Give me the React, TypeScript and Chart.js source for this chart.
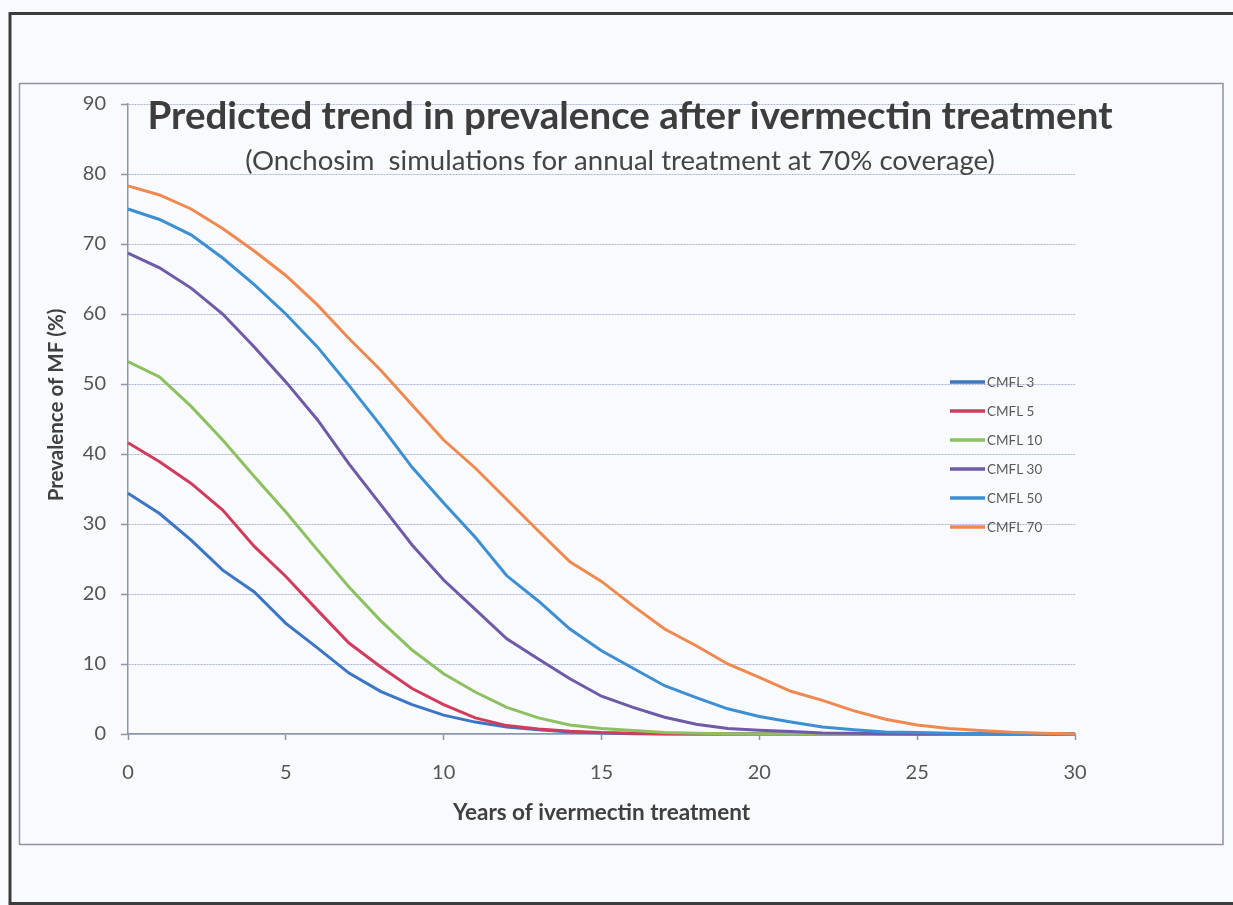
import React, { useEffect, useRef } from 'react';
import { Chart, registerables } from 'chart.js';

Chart.register(...registerables);

// ---- data ----
const years = [0, 1, 2, 3, 4, 5, 6, 7, 8, 9, 10, 11, 12, 13, 14, 15, 16, 17, 18, 19, 20, 21, 22, 23, 24, 25, 26, 27, 28, 29, 30];

const seriesNames = ['CMFL 3', 'CMFL 5', 'CMFL 10', 'CMFL 30', 'CMFL 50', 'CMFL 70'];

const cmfl3 = [34.4, 31.5, 27.7, 23.4, 20.3, 15.8, 12.3, 8.7, 6.1, 4.2, 2.7, 1.7, 1.0, 0.6, 0.3, 0.15, 0.05, 0, 0, 0, 0, 0, 0, 0, 0, 0, 0, 0, 0, 0, 0];
const cmfl5 = [41.6, 38.9, 35.8, 32.0, 26.8, 22.5, 17.7, 13.0, 9.6, 6.5, 4.2, 2.3, 1.2, 0.7, 0.4, 0.2, 0.1, 0.05, 0, 0, 0, 0, 0, 0, 0, 0, 0, 0, 0, 0, 0];
const cmfl10 = [53.2, 51.0, 46.8, 42.0, 36.8, 31.7, 26.3, 21.0, 16.2, 12.0, 8.6, 6.0, 3.8, 2.3, 1.3, 0.8, 0.5, 0.2, 0.1, 0.05, 0, 0, 0, 0, 0, 0, 0, 0, 0, 0, 0];
const cmfl30 = [68.7, 66.6, 63.7, 60.0, 55.3, 50.3, 44.9, 38.6, 32.8, 27.0, 22.0, 17.8, 13.6, 10.7, 7.9, 5.4, 3.8, 2.4, 1.4, 0.8, 0.55, 0.35, 0.15, 0.1, 0.05, 0, 0, 0, 0, 0, 0];
const cmfl50 = [75.0, 73.5, 71.3, 68.0, 64.2, 60.0, 55.3, 49.8, 44.1, 38.1, 33.0, 28.1, 22.6, 19.0, 15.0, 11.9, 9.4, 6.9, 5.2, 3.6, 2.5, 1.7, 1.0, 0.6, 0.3, 0.2, 0.1, 0.05, 0.02, 0, 0];
const cmfl70 = [78.3, 77.0, 75.0, 72.2, 69.0, 65.5, 61.3, 56.5, 52.0, 47.0, 42.0, 38.0, 33.5, 29.0, 24.6, 21.8, 18.3, 15.0, 12.6, 10.0, 8.1, 6.1, 4.8, 3.3, 2.1, 1.3, 0.8, 0.5, 0.25, 0.1, 0];

const seriesValues = [cmfl3, cmfl5, cmfl10, cmfl30, cmfl50, cmfl70];
const seriesColors = ['#3b76c4', '#d23c5c', '#8dc060', '#6f5aa8', '#3d8fd4', '#f0894f'];

const xTickValues = [0, 5, 10, 15, 20, 25, 30];
const yTickValues = [0, 10, 20, 30, 40, 50, 60, 70, 80, 90];

const titleText = 'Predicted trend in prevalence after ivermectin treatment';
const subtitleText = '(Onchosim  simulations for annual treatment at 70% coverage)';
const xAxisTitle = 'Years of ivermectin treatment';
const yAxisTitle = 'Prevalence of MF (%)';

const FONT = 'Lato, "Open Sans", sans-serif';
const AXIS_GRAY = '#8d93a8';
const GRID_BLUE = '#aab4d8';
const TEXT_GRAY = '#555555';

const framePlugin = {
  id: 'frame',
  beforeDraw(chart: any) {
    const ctx = chart.ctx;
    ctx.save();
    ctx.fillStyle = '#f8fafd';
    ctx.fillRect(0, 0, chart.width, chart.height);
    // outer scan frame
    ctx.strokeStyle = '#3c3c3c';
    ctx.lineWidth = 3;
    ctx.strokeRect(10, 13.5, 1240, 890);
    // inner chart frame
    ctx.strokeStyle = '#8e93a4';
    ctx.lineWidth = 1.5;
    ctx.strokeRect(19.5, 83.5, 1203.5, 761);
    ctx.restore();
  },
};

const titlePlugin = {
  id: 'innerTitle',
  afterDraw(chart: any) {
    const ctx = chart.ctx;
    const { top } = chart.chartArea;
    ctx.save();
    ctx.textAlign = 'center';
    ctx.textBaseline = 'alphabetic';
    ctx.fillStyle = '#3d3d3d';
    ctx.font = `bold 32px ${FONT}`;
    let w = ctx.measureText(titleText).width;
    let size = 32 * 965 / w;
    ctx.font = `bold ${size.toFixed(2)}px ${FONT}`;
    ctx.fillText(titleText, 630, top + 25);

    ctx.fillStyle = '#444444';
    ctx.font = `21px ${FONT}`;
    w = ctx.measureText(subtitleText).width;
    size = 21 * 750 / w;
    ctx.font = `${size.toFixed(2)}px ${FONT}`;
    ctx.fillText(subtitleText, 620, top + 66);

    // rotated y-axis title
    ctx.translate(56.5, 405);
    ctx.rotate(-Math.PI / 2);
    ctx.textBaseline = 'middle';
    ctx.fillStyle = '#404040';
    ctx.font = `bold 20.5px ${FONT}`;
    ctx.fillText(yAxisTitle, 0, 0);
    ctx.restore();
  },
};

const legendPlugin = {
  id: 'innerLegend',
  afterDraw(chart: any) {
    const ctx = chart.ctx;
    const { left, top } = chart.chartArea;
    ctx.save();
    ctx.font = `13.5px ${FONT}`;
    ctx.textBaseline = 'middle';
    ctx.textAlign = 'left';
    chart.data.datasets.forEach((ds: any, i: number) => {
      const y = top + 278 + i * 29;
      ctx.strokeStyle = ds.borderColor;
      ctx.lineWidth = 3.5;
      ctx.beginPath();
      ctx.moveTo(left + 822, y);
      ctx.lineTo(left + 857, y);
      ctx.stroke();
      ctx.fillStyle = '#5a5a5a';
      ctx.fillText(ds.label, left + 859, y + 1);
    });
    ctx.restore();
  },
};

export default function App() {
  const canvasRef = useRef<HTMLCanvasElement | null>(null);

  useEffect(() => {
    if (!canvasRef.current) return;
    const datasets = seriesNames.map((name, i) => ({
      label: name,
      data: years.map((x, j) => ({ x, y: seriesValues[i][j] })),
      borderColor: seriesColors[i],
      backgroundColor: seriesColors[i],
      borderWidth: 3,
      pointRadius: 0,
      tension: 0,
      fill: false,
      clip: false,
      order: seriesNames.length - 1 - i,
    }));

    const chart = new Chart(canvasRef.current, {
      type: 'line',
      data: { datasets },
      plugins: [framePlugin, titlePlugin, legendPlugin],
      options: {
        responsive: false,
        animation: false,
        devicePixelRatio: 1,
        layout: { padding: { left: 0, top: 104, right: 158, bottom: 0 } },
        plugins: {
          legend: { display: false },
          tooltip: { enabled: false },
          title: { display: false },
        },
        scales: {
          x: {
            type: 'linear',
            min: 0,
            max: 30,
            afterFit: (s: any) => { s.height = 171; },
            afterBuildTicks: (s: any) => { s.ticks = xTickValues.map((v) => ({ value: v })); },
            grid: {
              drawOnChartArea: false,
              drawTicks: true,
              tickLength: 6,
              tickColor: AXIS_GRAY,
              tickWidth: 1.5,
            },
            border: { display: true, color: AXIS_GRAY, width: 1.5 },
            ticks: {
              autoSkip: false,
              maxRotation: 0,
              padding: 21,
              color: TEXT_GRAY,
              font: { family: FONT, size: 20 },
            },
            title: {
              display: true,
              text: xAxisTitle,
              color: '#404040',
              font: { family: FONT, size: 22.5, weight: 'bold' },
              padding: { top: 0, bottom: 79 },
            },
          },
          y: {
            type: 'linear',
            min: 0,
            max: 90,
            afterFit: (s: any) => { s.width = 128; },
            afterBuildTicks: (s: any) => { s.ticks = yTickValues.map((v) => ({ value: v })); },
            grid: {
              drawOnChartArea: true,
              color: GRID_BLUE,
              lineWidth: 1,
              drawTicks: true,
              tickLength: 7,
              tickColor: AXIS_GRAY,
              tickWidth: 1.5,
              tickBorderDash: [],
            },
            border: { display: true, color: AXIS_GRAY, width: 1.5, dash: [2, 1] },
            ticks: {
              autoSkip: false,
              padding: 15,
              color: TEXT_GRAY,
              font: { family: FONT, size: 20 },
            },
            title: { display: false },
          },
        },
      } as any,
    });

    let cancelled = false;
    if ((document as any).fonts && (document as any).fonts.ready) {
      (document as any).fonts.ready.then(() => { if (!cancelled) chart.update('none'); });
    }
    return () => { cancelled = true; chart.destroy(); };
  }, []);

  return (
    <div style={{ position: 'fixed', left: 0, top: 0, width: 1233, height: 905, background: '#f8fafd' }}>
      <canvas ref={canvasRef} width={1233} height={905} style={{ display: 'block', width: 1233, height: 905 }} />
    </div>
  );
}
